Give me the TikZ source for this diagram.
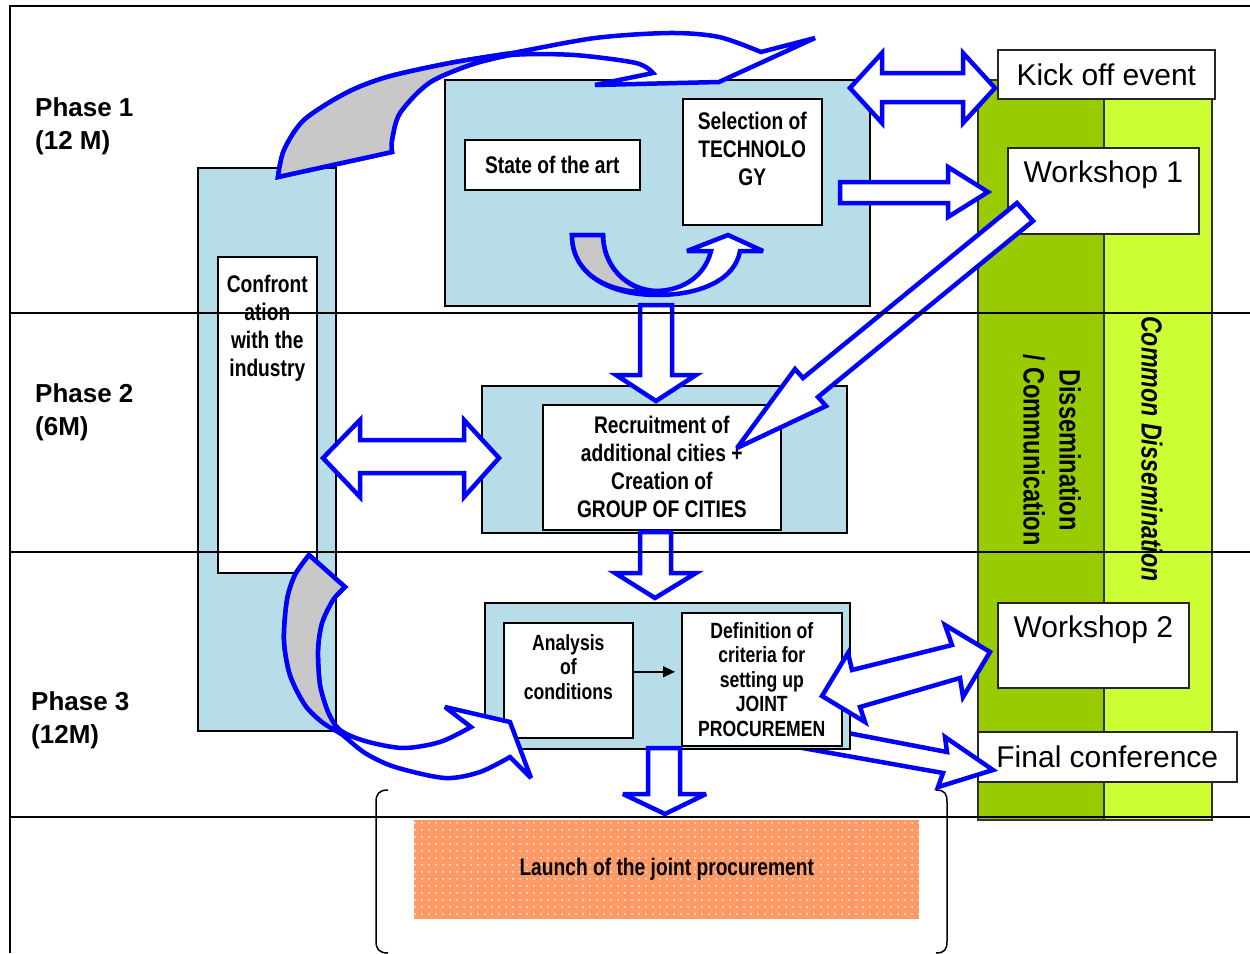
\documentclass[tikz,border=0pt]{standalone}
\usepackage{fontspec}
\setmainfont{Liberation Sans}
\newfontfamily\narrowfont[FakeStretch=0.8]{Liberation Sans}
\usetikzlibrary{arrows.meta,patterns.meta}
\definecolor{paleteal}{HTML}{B7DEE8}
\definecolor{leafgreen}{HTML}{99CC00}
\definecolor{limegreen}{HTML}{CCFF33}
\definecolor{peach}{HTML}{FF9966}
\definecolor{wpblue}{HTML}{0000FF}
\definecolor{backgray}{HTML}{C8C8C8}

\tikzset{
  gridline/.style={line width=2pt},
  tealbox/.style={draw,line width=1.6pt,fill=paleteal,anchor=north west,inner sep=0pt},
  whitebox/.style={draw,line width=1.6pt,fill=white,anchor=north west,inner sep=0pt},
  eventbox/.style={draw=black!85,line width=1.6pt,fill=white,anchor=north west,
    inner sep=0pt,font=\fontsize{30}{36}\selectfont},
  greencol/.style={draw=black!80,line width=1.6pt,anchor=north west,inner sep=0pt},
  narrow/.style={font=\narrowfont\bfseries\fontsize{24}{28}\selectfont,align=center,inner sep=0pt},
  smallnarrow/.style={font=\narrowfont\bfseries\fontsize{22}{24.5}\selectfont,align=center,inner sep=0pt},
  phaselabel/.style={font=\bfseries\fontsize{26}{33}\selectfont,align=left,anchor=west,inner sep=0pt},
  blockarrow/.style={draw=wpblue,line width=4.5pt,fill=white,line join=miter,miter limit=4},
  backside/.style={blockarrow,fill=backgray},
}

\begin{document}
\begin{tikzpicture}[x=1pt,y=-1pt]
  \useasboundingbox (0,0) rectangle (1250,953);

  % confrontation with the industry
  \node[tealbox,minimum width=138pt,minimum height=563pt] (indcol) at (197,167) {};
  \node[whitebox,minimum width=99pt,minimum height=316pt] (industry) at (217,256) {};
  \node[narrow,anchor=north] (industrytxt) at ([yshift=-19pt]industry.north)
    {Confront\\ation\\with the\\industry};

  % phase 1 block
  \node[tealbox,minimum width=425pt,minimum height=226pt] (phaseone) at (444,79) {};
  \node[whitebox,narrow,minimum width=175pt,minimum height=50pt] (art) at (464,139)
    {State of the art};
  \node[whitebox,minimum width=139pt,minimum height=126pt] (techsel) at (682,98) {};
  \node[narrow,anchor=north] (techseltxt) at ([yshift=-13.5pt]techsel.north)
    {Selection of\\TECHNOLO\\GY};

  % phase 2 block
  \node[tealbox,minimum width=365pt,minimum height=147pt] (phasetwo) at (481,385) {};
  \node[whitebox,narrow,minimum width=238pt,minimum height=125pt] (recruit) at (542,404)
    {Recruitment of\\additional cities +\\Creation of\\GROUP OF CITIES};

  % dissemination columns
  \node[greencol,fill=leafgreen,minimum width=126pt,minimum height=740pt] (dissem) at (977,79) {};
  \node[greencol,fill=limegreen,minimum width=108pt,minimum height=740pt] (common) at (1103,79) {};
  \node[font=\narrowfont\bfseries\fontsize{29.5}{36}\selectfont,align=center,rotate=-90]
    (dissemtxt) at (1052,450) {Dissemination\\/ Communication};
  \node[font=\narrowfont\bfseries\itshape\fontsize{29}{36}\selectfont,rotate=-90]
    (commontxt) at (1152,449) {Common Dissemination};

  % events
  \node[eventbox,minimum width=217pt,minimum height=49pt] (kickoff) at (997,49) {Kick off event};
  \node[eventbox,minimum width=191pt,minimum height=86pt] (wsone) at (1007,147) {};
  \node[font=\fontsize{30}{36}\selectfont,anchor=north,inner sep=0pt] (wsonetxt)
    at ([yshift=-14pt]wsone.north) {Workshop 1};
  \node[eventbox,minimum width=191pt,minimum height=85pt] (wstwo) at (997,602) {};
  \node[font=\fontsize{30}{36}\selectfont,anchor=north,inner sep=0pt] (wstwotxt)
    at ([yshift=-14pt]wstwo.north) {Workshop 2};
  \node[eventbox,minimum width=259pt,minimum height=50pt] (finalconf) at (977,731) {Final conference};

  % arrow to the final conference (tail hidden under phase 3 block)
  \draw[blockarrow] (780,720) -- (947,752) -- (945,737) -- (993,770) -- (938,787)
    -- (943,773) -- (780,744) -- cycle;

  % phase 3 block
  \node[tealbox,minimum width=365pt,minimum height=146pt] (phasethree) at (484,602) {};
  \node[whitebox,minimum width=129pt,minimum height=115pt] (analysis) at (503,622) {};
  \node[smallnarrow,anchor=north] (analysistxt) at ([yshift=-12pt]analysis.north)
    {Analysis\\of\\conditions};
  \node[whitebox,smallnarrow,minimum width=160pt,minimum height=133pt] (criteria) at (681,612)
    {Definition of\\criteria for\\setting up\\JOINT\\PROCUREMEN};
  \draw[line width=1.5pt,-{Triangle[length=12pt,width=11pt]},shorten >=6pt]
    ([yshift=8.5pt]analysis.east) -- ([yshift=7.5pt]criteria.west);

  % launch
  \draw[line width=1.5pt] (388,790) .. controls (379,790) and (376,794) .. (376,802)
    -- (376,941) .. controls (376,949) and (379,953) .. (388,953);
  \draw[line width=1.5pt] (936,790) .. controls (945,790) and (947,794) .. (947,802)
    -- (947,941) .. controls (947,949) and (945,953) .. (936,953);
  \node[anchor=north west,minimum width=505pt,minimum height=99pt,fill=peach,
        postaction={pattern={Dots[distance=6.5pt,radius=1.1pt]},pattern color=white!80!peach},
        narrow] (launch) at (414,820) {Launch of the joint procurement};

  % block arrows
  \draw[blockarrow] (278,177) -- plot[smooth] coordinates {(278,177) (284,150) (304,120)
      (346,93) (387,77) (450,63) (512,53) (595,38) (670,33) (719,37) (761,52)}
    -- (815,38) -- (719,82) -- (595,85) -- (653,73)
    -- plot[smooth] coordinates {(653,73) (636,63) (574,55) (512,55) (470,65) (429,83)
      (400,113) (392,140) (392,152)} -- cycle;
  \draw[backside] plot[smooth] coordinates {(278,177) (284,150) (304,120) (346,93)
      (387,77) (450,63) (505,54)}
    -- plot[smooth] coordinates {(505,56) (470,65) (429,83) (400,113) (392,140)
      (392,152)} -- cycle;

  \draw[blockarrow] (572,235) -- (603,235) .. controls (603,265) and (625,290) .. (657,291)
    .. controls (685,290) and (705,275) .. (711,251) -- (687,251) -- (728,235)
    -- (763,251) -- (740,251) .. controls (735,280) and (700,295) .. (657,295)
    .. controls (610,295) and (572,275) .. (572,235) -- cycle;
  \draw[backside] (572,235) -- (603,235) .. controls (603,265) and (625,290) .. (657,292)
    .. controls (610,295) and (572,275) .. (572,235) -- cycle;

  \draw[blockarrow] (850,88) -- (882,53) -- (882,73) -- (963,73) -- (963,53) -- (995,88)
    -- (963,123) -- (963,102) -- (882,102) -- (882,123) -- cycle;
  \draw[blockarrow] (840,182) -- (948,182) -- (948,167) -- (988,192) -- (948,217)
    -- (948,203) -- (840,203) -- cycle;
  \draw[blockarrow] (1017,203) -- (803,378) -- (795,369) -- (737,448) -- (826,406)
    -- (818,397) -- (1033,221) -- cycle;

  \draw[blockarrow] (640,305) -- (640,375) -- (616,375) -- (656,401) -- (696,375)
    -- (672,375) -- (672,305) -- cycle;
  \draw[blockarrow] (640,532) -- (640,573) -- (615,573) -- (655,598) -- (696,573)
    -- (671,573) -- (671,532) -- cycle;
  \draw[blockarrow] (648,748) -- (648,794) -- (623,794) -- (665,814) -- (706,794)
    -- (680,794) -- (680,748) -- cycle;

  \draw[blockarrow] (323,458) -- (360,420) -- (360,440) -- (464,440) -- (464,420)
    -- (499,458) -- (464,497) -- (464,473) -- (360,473) -- (360,497) -- cycle;

  \draw[blockarrow] plot[smooth] coordinates {(309,555) (295,575) (287,600) (284,640)
      (290,675) (305,705) (322,722) (340,733) (365,753) (395,767) (445,778) (480,772)
      (510,757)}
    -- (531,778) -- (510,722) -- (445,707) -- (471,727)
    -- plot[smooth] coordinates {(471,727) (440,742) (403,748) (365,741) (340,730)
      (328,712) (320,685) (318,650) (322,623) (333,600) (345,587)} -- cycle;
  \draw[backside] plot[smooth] coordinates {(309,555) (295,575) (287,600) (284,640)
      (290,675) (305,705) (322,722) (338,732)}
    -- plot[smooth] coordinates {(338,730) (328,712) (320,685) (318,650) (322,623)
      (333,600) (345,587)} -- cycle;

  \draw[blockarrow] (822,696) -- (848,653) -- (852,670) -- (952,645) -- (945,625)
    -- (990,652) -- (963,697) -- (960,678) -- (860,707) -- (865,722) -- cycle;

  % phase grid
  \draw[gridline] (10,953) -- (10,6) -- (1250,6);
  \foreach \y in {313,552,817}
    \draw[gridline] (10,\y) -- (1250,\y);
  \node[phaselabel] (phone) at (35,126.5) {Phase 1\\(12 M)};
  \node[phaselabel] (phtwo) at (35,412.5) {Phase 2\\(6M)};
  \node[phaselabel] (phthree) at (31,720.5) {Phase 3\\(12M)};
\end{tikzpicture}
\end{document}
